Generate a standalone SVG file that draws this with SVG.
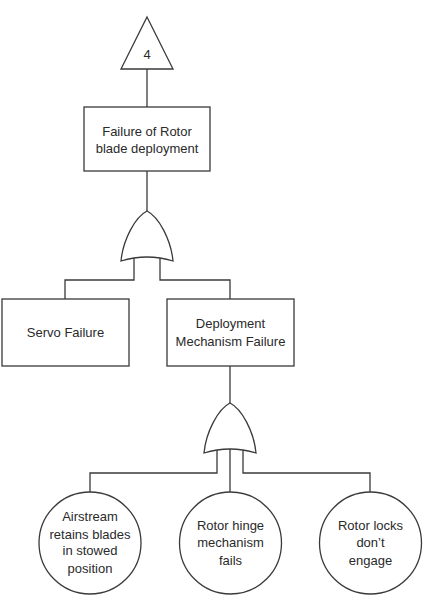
<svg xmlns="http://www.w3.org/2000/svg" xmlns:xlink="http://www.w3.org/1999/xlink" width="442" height="601" viewBox="0 0 442 601">
<style>
.shape{fill:#fff;stroke:#3a3a3a;stroke-width:1.3}
.conn{fill:none;stroke:#3a3a3a;stroke-width:1.3}
text{font-family:"Liberation Sans",Arial,sans-serif;font-size:13px;fill:#2a2a2a;text-anchor:middle}
</style>
<defs>
<path id="orgate" d="M0,0 C-12,6 -24,29 -26,50 Q0,42 26,50 C24,29 12,6 0,0 Z"/>
</defs>
<rect width="442" height="601" fill="#fff"/>
<g id="connectors">
<path class="conn" d="M147,69 V107"/>
<path class="conn" d="M147,171 V211"/>
<path class="conn" d="M134,258 V280 H65 V299"/>
<path class="conn" d="M160,258 V280 H230 V299"/>
<path class="conn" d="M230,366 V403"/>
<path class="conn" d="M217,450 V473 H90 V492"/>
<path class="conn" d="M243,450 V473 H370 V492"/>
</g>
<g id="transfer4">
<polygon class="shape" points="147,17 173,69 121,69"/>
<text x="147" y="59" font-size="12">4</text>
</g>
<g id="top-event">
<rect class="shape" x="84" y="107" width="126" height="64"/>
<text x="147" y="135.5">Failure of Rotor</text>
<text x="147" y="152.5">blade deployment</text>
</g>
<g id="or-gate-1">
<use href="#orgate" xlink:href="#orgate" x="147" y="211" class="shape"/>
</g>
<g id="servo-failure">
<rect class="shape" x="2" y="299" width="127" height="67"/>
<text x="65.5" y="336.5">Servo Failure</text>
</g>
<g id="deployment-mechanism-failure">
<rect class="shape" x="167" y="299" width="127" height="67"/>
<text x="230.5" y="328">Deployment</text>
<text x="230.5" y="345.5">Mechanism Failure</text>
</g>
<g id="or-gate-2">
<use href="#orgate" xlink:href="#orgate" x="230" y="403" class="shape"/>
<path class="conn" d="M230,449 V492"/>
</g>
<g id="airstream">
<circle class="shape" cx="90" cy="543" r="51"/>
<text x="90" y="521">Airstream</text>
<text x="90" y="539">retains blades</text>
<text x="90" y="555">in stowed</text>
<text x="90" y="572.5">position</text>
</g>
<g id="rotor-hinge">
<circle class="shape" cx="230.5" cy="543" r="51"/>
<text x="230.5" y="529.5">Rotor hinge</text>
<text x="230.5" y="547">mechanism</text>
<text x="230.5" y="564.5">fails</text>
</g>
<g id="rotor-locks">
<circle class="shape" cx="370.5" cy="543" r="51"/>
<text x="370.5" y="529.5">Rotor locks</text>
<text x="370.5" y="547">don’t</text>
<text x="370.5" y="564.5">engage</text>
</g>
</svg>
